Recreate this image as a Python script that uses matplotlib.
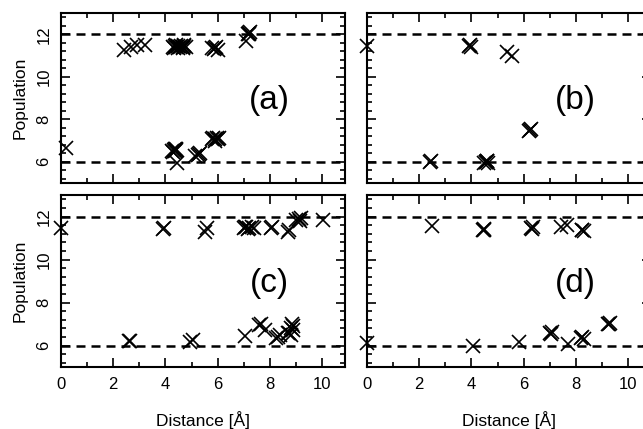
import matplotlib.pyplot as plt
from matplotlib.ticker import MultipleLocator

plt.rcParams['font.family'] = ['Liberation Sans', 'DejaVu Sans']

# panel (a)
a_dist = [0.2, 2.4, 2.7, 2.9, 3.2,
          4.3, 4.36, 4.42, 4.48, 4.54, 4.6, 4.66, 4.72, 4.78, 4.34, 4.5, 4.66, 4.4, 4.7,
          5.86, 5.9, 5.94, 5.8, 6.0,
          7.18, 7.22, 7.25, 7.2, 7.1,
          4.27, 4.32, 4.37, 4.42, 4.3, 4.4, 4.35,
          4.45,
          5.12, 5.26, 5.3, 5.34,
          5.78, 5.84, 5.9, 5.96, 6.02, 6.07, 5.9]
a_pop = [6.65, 11.25, 11.4, 11.5, 11.5,
         11.4, 11.45, 11.4, 11.45, 11.4, 11.45, 11.4, 11.45, 11.4, 11.35, 11.35, 11.35, 11.5, 11.5,
         11.3, 11.35, 11.4, 11.35, 11.25,
         12.0, 12.05, 12.1, 12.0, 11.7,
         6.5, 6.55, 6.5, 6.55, 6.45, 6.6, 6.6,
         5.95,
         6.25, 6.3, 6.35, 6.4,
         7.05, 7.1, 7.05, 7.1, 7.05, 7.1, 7.0]

# panel (b)
b_dist = [0.0, 3.92, 3.96, 4.0, 5.35, 5.55,
          6.2, 6.25, 6.3, 2.4, 2.44,
          4.5, 4.55, 4.6, 4.65, 4.55, 4.6]
b_pop = [11.45, 11.45, 11.5, 11.4, 11.15, 11.0,
         7.45, 7.5, 7.55, 6.0, 6.02,
         5.95, 6.0, 6.05, 5.95, 6.0, 6.05]

# panel (c)
c_dist = [0.0, 3.9, 3.95, 5.5, 5.6,
          7.0, 7.1, 7.2, 7.3, 7.4, 7.15, 7.05,
          8.05, 8.1, 8.7, 8.75,
          9.0, 9.1, 9.2, 9.15, 10.05,
          2.6, 2.65, 4.95, 5.05,
          7.05, 7.6, 7.65, 7.8,
          8.25, 8.3, 8.4,
          8.7, 8.8, 8.85, 8.9, 8.8, 8.9, 8.75]
c_pop = [11.45, 11.4, 11.45, 11.3, 11.45,
         11.45, 11.5, 11.45, 11.5, 11.45, 11.4, 11.5,
         11.45, 11.5, 11.3, 11.35,
         11.85, 11.9, 11.95, 11.8, 11.85,
         6.2, 6.2, 6.15, 6.25,
         6.45, 6.95, 7.0, 6.7,
         6.35, 6.4, 6.5,
         6.6, 6.8, 7.0, 6.9, 6.5, 6.7, 6.6]

# panel (d)
d_dist = [2.5, 4.45, 4.5, 4.48, 6.3, 6.35, 6.33,
          7.45, 7.65, 8.25, 8.3, 8.22,
          0.0, 4.05, 5.82, 7.0, 7.05, 7.08, 7.7,
          8.2, 8.3, 8.25, 9.25, 9.3, 9.28]
d_pop = [11.55, 11.38, 11.4, 11.35, 11.45, 11.5, 11.42,
         11.5, 11.6, 11.35, 11.32, 11.38,
         6.1, 6.0, 6.15, 6.6, 6.55, 6.62, 6.08,
         6.35, 6.3, 6.4, 7.0, 7.05, 6.98]

panels = [("(a)", a_dist, a_pop), ("(b)", b_dist, b_pop),
          ("(c)", c_dist, c_pop), ("(d)", d_dist, d_pop)]

fig = plt.figure(figsize=(6.43, 4.29), dpi=100)
W, H = 643.0, 429.0
# axes boxes in pixels (left, top, width, height); right column runs off the edge
boxes = [(61, 13, 284, 170), (367, 13, 284, 170),
         (61, 195, 284, 172), (367, 195, 284, 172)]

for i, (lab, xs, ys) in enumerate(panels):
    x0, y0, w, h = boxes[i]
    ax = fig.add_axes([x0 / W, 1 - (y0 + h) / H, w / W, h / H])
    ax.plot(xs, ys, 'x', color='black', ms=9.5, mew=1.2, clip_on=False, zorder=3)
    for yl in (6, 12):
        ax.axhline(yl, color='black', lw=1.8, dashes=(3.6, 2.4), zorder=0)
    ax.set_xlim(0, 10.88)
    ax.set_ylim(5, 13)
    ax.xaxis.set_major_locator(MultipleLocator(2))
    ax.xaxis.set_minor_locator(MultipleLocator(1))
    ax.yaxis.set_major_locator(MultipleLocator(2))
    ax.yaxis.set_minor_locator(MultipleLocator(0.4))
    ax.tick_params(which='both', direction='in', top=True, right=True,
                   width=1.2, labelsize=12)
    ax.tick_params(which='major', length=6.5)
    ax.tick_params(which='minor', length=3.5)
    ax.tick_params(axis='x', pad=7)
    ax.tick_params(axis='y', pad=7)
    for s in ax.spines.values():
        s.set_linewidth(1.5)
    ax.text(8.0, 8.9, lab, fontsize=24, ha='center', va='center')

    if i % 2 == 0:
        ax.set_ylabel('Population', fontsize=12.5, labelpad=6)
        for t in ax.get_yticklabels():
            t.set_rotation(90)
            t.set_va('center')
    else:
        ax.set_yticklabels([])
    if i < 2:
        ax.set_xticklabels([])
    else:
        ax.set_xlabel('Distance [Å]', fontsize=12.5, labelpad=14)

fig.savefig('out.png', dpi=100)
